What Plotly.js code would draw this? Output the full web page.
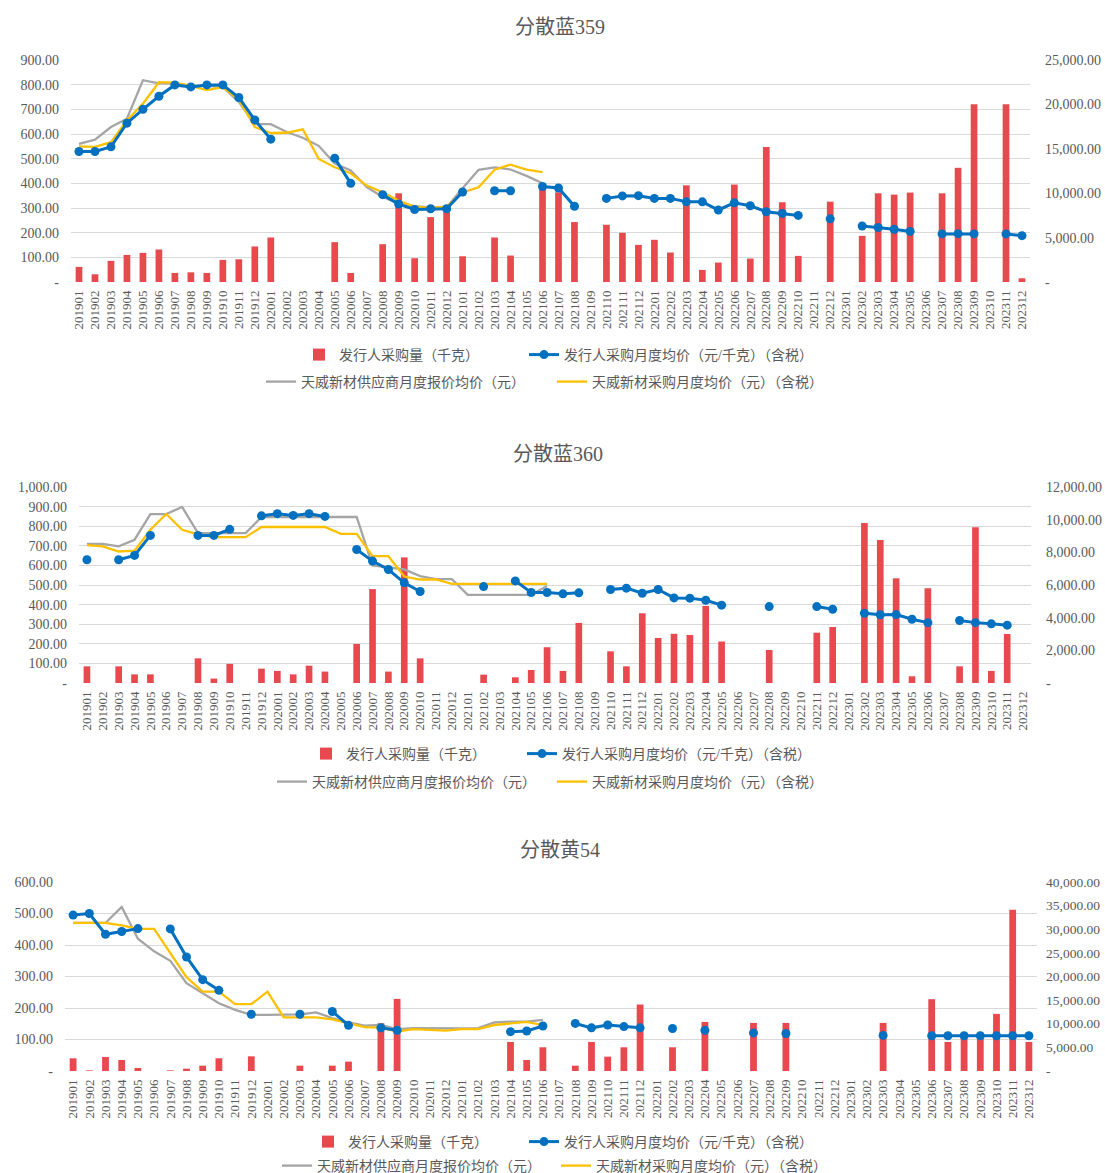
<!DOCTYPE html>
<html><head><meta charset="utf-8">
<script src="https://cdn.plot.ly/plotly-3.0.1.min.js"></script>
<style>
body{margin:0;background:#fff;width:1105px;height:1173px;overflow:hidden;position:relative}
.c{position:absolute;left:0;width:1105px}
</style>
</head><body>
<div id="c1" class="c" style="top:0;height:400px"></div>
<div id="c2" class="c" style="top:400px;height:400px"></div>
<div id="c3" class="c" style="top:800px;height:373px"></div>
<script>
const months = [
 '201901','201902','201903','201904','201905','201906','201907','201908','201909','201910','201911','201912',
 '202001','202002','202003','202004','202005','202006','202007','202008','202009','202010','202011','202012',
 '202101','202102','202103','202104','202105','202106','202107','202108','202109','202110','202111','202112',
 '202201','202202','202203','202204','202205','202206','202207','202208','202209','202210','202211','202212',
 '202301','202302','202303','202304','202305','202306','202307','202308','202309','202310','202311','202312'];

const seriesNames = ['发行人采购量（千克）','发行人采购月度均价（元/千克）（含税）','天威新材供应商月度报价均价（元）','天威新材采购月度均价（元）（含税）'];

// ---- 分散蓝359 ----
const qty1 = [1700,870,2380,3050,3280,3660,1020,1090,1020,2490,2560,4000,
 5010,null,null,null,4490,1020,null,4260,9990,2680,7310,7950,
 2900,null,5010,2980,null,10670,10100,6750,null,6450,5540,4180,
 4750,3320,10890,1360,2190,10970,2640,15200,8980,2940,null,9050,
 null,5200,9990,9840,10070,null,9990,12860,20020,null,20020,420];
const price1 = [529,529,548,644,700,753,799,791,799,799,748,657,
 579,null,null,null,502,400,null,354,316,294,297,297,
 365,null,370,370,null,387,381,307,null,339,349,350,
 339,339,325,325,292,321,309,285,278,270,null,256,
 null,227,221,214,205,null,195,196,195,null,195,188];
const supp1 = [560,577,628,662,818,805,805,795,795,790,730,640,
 640,608,585,552,480,452,385,345,318,308,302,302,
 380,455,465,456,430,400];
const buy1 = [550,548,567,655,723,810,808,795,778,790,740,628,
 604,605,619,499,465,441,391,364,330,305,300,305,
 363,384,455,476,456,445];

// ---- 分散蓝360 ----
const qty2 = [1020,null,1020,530,530,null,null,1510,270,1170,null,880,
 740,530,1060,700,null,2390,5750,700,7690,1510,null,null,
 null,510,null,350,800,2190,740,3680,null,1940,1020,4270,
 2760,3010,2940,4720,2540,null,null,2020,null,null,3080,3430,
 null,9800,8760,6410,410,5800,null,1020,9530,740,3000,null];
const price2 = [629,null,629,651,753,null,null,753,753,784,null,853,
 864,855,864,850,null,681,622,579,511,467,null,null,
 null,492,null,521,462,462,455,460,null,477,484,458,
 477,434,433,422,397,null,null,390,null,null,390,376,
 null,356,348,349,325,308,null,319,308,302,295,null];
const supp2 = [710,710,697,731,862,862,898,765,765,765,765,847,
 847,847,847,847,847,847,600,590,580,545,530,530,
 450,450,450,450,450,495];
const buy2 = [703,697,671,675,782,862,782,758,744,744,744,796,
 796,796,796,796,761,761,647,647,543,528,528,506,
 506,506,506,506,506,506];

// ---- 分散黄54 ----
const qty3 = [2690,140,2970,2330,640,null,140,500,1130,2690,null,3110,
 null,null,1130,null,1130,1980,null,10110,15270,null,null,null,
 null,null,null,6150,2330,5020,null,1130,6150,3040,5020,14070,
 null,5020,null,10390,null,null,10180,null,10180,null,null,null,
 null,null,10180,null,null,15200,6150,7500,7500,12090,34150,6150];
const price3 = [495,500,434,443,452,null,451,362,290,256,null,180,
 null,null,180,null,189,145,null,137,129,null,null,null,
 null,null,null,125,127,143,null,151,137,146,141,137,
 null,135,null,129,null,null,121,null,119,null,null,null,
 null,null,113,null,null,112,112,112,112,112,112,112];
const supp3 = [470,470,470,521,420,380,350,279,247,215,194,178,
 178,178,180,186,168,154,144,146,133,136,135,135,
 135,136,154,157,157,162];
const buy3 = [470,470,470,462,451,451,374,298,252,252,212,212,
 252,170,170,170,164,152,139,138,125,133,130,128,
 133,133,146,152,156,146];

const FONT = '"Liberation Serif", "Noto Sans CJK SC", serif';
const TXT = '#595959';
const RED = '#E8494F', BLUE = '#0070C0', GRAY = '#A5A5A5', YEL = '#FFC000';

function draw(id, o) {
  const traces = [
    {type:'bar', x:months, y:o.qty, yaxis:'y', name:seriesNames[0], marker:{color:RED}, legend:'legend', legendwidth:o.e1},
    {type:'scatter', mode:'lines', x:months, y:o.supp, yaxis:'y2', name:seriesNames[2], line:{color:GRAY, width:2.3}, legend:'legend2', legendwidth:o.e2},
    {type:'scatter', mode:'lines', x:months, y:o.buy, yaxis:'y2', name:seriesNames[3], line:{color:YEL, width:2.3}, legend:'legend2', legendwidth:280},
    {type:'scatter', mode:'lines+markers', x:months, y:o.price, yaxis:'y2', name:seriesNames[1], line:{color:BLUE, width:3}, marker:{color:BLUE, size:9}, legend:'legend', legendwidth:280}
  ];
  const H = o.h;
  const leg = (x, y) => ({orientation:'h', x:x, xanchor:'left', y:y, yanchor:'middle',
    font:{size:14, color:TXT, family:FONT}, bgcolor:'rgba(0,0,0,0)', traceorder:'normal'});
  const layout = {
    width:1105, height:H,
    margin:{l:o.l, r:o.r, t:o.t, b:o.b, autoexpand:false},
    paper_bgcolor:'#fff', plot_bgcolor:'#fff',
    font:{family:FONT, color:TXT, size:14},
    title:{text:o.title, x:o.tx, xref:'container', xanchor:'center', y:1 - o.ty / H, yref:'container', yanchor:'middle',
      font:{size:20, color:TXT, family:FONT}},
    bargap:0.58,
    showlegend:true,
    hovermode:false,
    xaxis:{type:'category', range:[-0.5, 59.5], tickangle:-90, tickmode:'array', tickvals:months, ticktext:months,
      tickfont:{size:13, color:TXT, family:FONT},
      showgrid:false, zeroline:false, showline:false, ticks:'', ticklabelstandoff:5},
    yaxis:{side:'right', range:[0, o.rmax], dtick:o.rdt, tick0:0, tickformat:',.2f', labelalias:{'0.00':'-'},
      showgrid:false, zeroline:false, showline:false, ticks:'', ticklabelstandoff:o.rst,
      tickfont:{size:o.rfs, color:TXT, family:FONT}},
    yaxis2:{side:'left', overlaying:'y', range:[0, o.lmax], dtick:100, tick0:0, tickformat:',.2f', labelalias:{'0.00':'-'},
      showgrid:true, gridcolor:'#D9D9D9', gridwidth:1, zeroline:false, showline:false, ticks:'', ticklabelstandoff:11,
      tickfont:{size:14, color:TXT, family:FONT}},
    legend:leg((o.L1 - o.l) / (1105 - o.l - o.r), o.ly1),
    legend2:leg((o.L2 - o.l) / (1105 - o.l - o.r), o.ly2)
  };
  Plotly.newPlot(id, traces, layout, {staticPlot:true, displayModeBar:false});
}

draw('c1', {title:'分散蓝359', qty:qty1, price:price1, supp:supp1, buy:buy1,
  h:400, l:71, r:75, t:60, b:118, tx:560/1105, ty:27, lmax:900, rmax:25000, rdt:5000, rst:14, rfs:14,
  ly1:(282-355)/222, ly2:(282-382)/222, L1:299, L2:261, e1:180, e2:246});
draw('c2', {title:'分散蓝360', qty:qty2, price:price2, supp:supp2, buy:buy2,
  h:400, l:79, r:74, t:87, b:117, tx:558/1105, ty:54, lmax:1000, rmax:12000, rdt:2000, rst:14, rfs:14,
  ly1:(283-354)/196, ly2:(283-382)/196, L1:306, L2:272, e1:171, e2:235});
draw('c3', {title:'分散黄54', qty:qty3, price:price3, supp:supp3, buy:buy3,
  h:373, l:65, r:68, t:82, b:102, tx:560/1105, ty:50, lmax:600, rmax:40000, rdt:5000, rst:8, rfs:13.5,
  ly1:(271-342)/189, ly2:(271-366)/189, L1:308, L2:277, e1:171, e2:234});
</script>
</body></html>
